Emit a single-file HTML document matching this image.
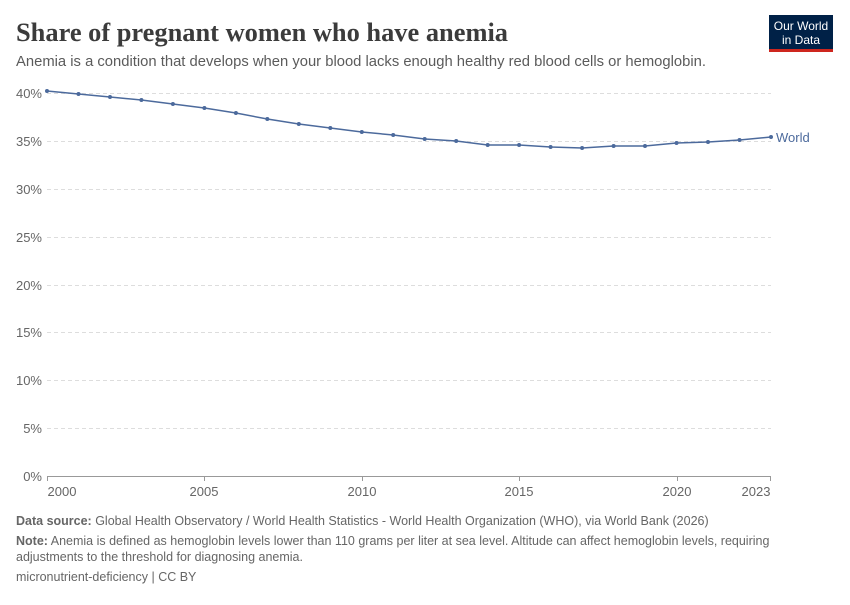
<!DOCTYPE html>
<html><head><meta charset="utf-8"><style>
body{margin:0;background:#fff;width:850px;height:600px;overflow:hidden;font-family:"Liberation Sans",sans-serif}
</style></head><body>
<svg width="850" height="600" xmlns="http://www.w3.org/2000/svg" font-family="Liberation Sans, sans-serif">
<text x="16" y="41" font-family="Liberation Serif, serif" font-size="26.5" font-weight="bold" fill="#3b3b3b" textLength="492" lengthAdjust="spacingAndGlyphs">Share of pregnant women who have anemia</text>
<text x="16" y="66" font-size="14.5" fill="#5b5b5b" textLength="690" lengthAdjust="spacingAndGlyphs">Anemia is a condition that develops when your blood lacks enough healthy red blood cells or hemoglobin.</text>
<rect x="769" y="15" width="64" height="34" fill="#002147"/>
<rect x="769" y="49" width="64" height="3" fill="#ce261e"/>
<text x="801" y="30" font-size="12" fill="#fff" text-anchor="middle">Our World</text>
<text x="801" y="44" font-size="12" fill="#fff" text-anchor="middle">in Data</text>
<g stroke="#ddd" stroke-dasharray="4,3" stroke-width="1">
<line x1="47" x2="771" y1="93.5" y2="93.5"/><line x1="47" x2="771" y1="141.5" y2="141.5"/>
<line x1="47" x2="771" y1="189.5" y2="189.5"/><line x1="47" x2="771" y1="237.5" y2="237.5"/>
<line x1="47" x2="771" y1="285.5" y2="285.5"/><line x1="47" x2="771" y1="332.5" y2="332.5"/>
<line x1="47" x2="771" y1="380.5" y2="380.5"/><line x1="47" x2="771" y1="428.5" y2="428.5"/>
</g>
<line x1="47" x2="771" y1="476.5" y2="476.5" stroke="#999"/>
<g font-size="13" fill="#666" text-anchor="end">
<text x="42" y="98">40%</text><text x="42" y="146">35%</text><text x="42" y="194">30%</text>
<text x="42" y="242">25%</text><text x="42" y="290">20%</text><text x="42" y="337">15%</text>
<text x="42" y="385">10%</text><text x="42" y="433">5%</text><text x="42" y="481">0%</text>
</g>
<g stroke="#999"><line x1="47.5" x2="47.5" y1="476" y2="481"/><line x1="204.5" x2="204.5" y1="476" y2="481"/><line x1="362.5" x2="362.5" y1="476" y2="481"/><line x1="519.5" x2="519.5" y1="476" y2="481"/><line x1="677.5" x2="677.5" y1="476" y2="481"/><line x1="770.5" x2="770.5" y1="476" y2="481"/></g>
<g font-size="13" fill="#666" text-anchor="middle">
<text x="62" y="496">2000</text><text x="204" y="496">2005</text><text x="362" y="496">2010</text>
<text x="519" y="496">2015</text><text x="677" y="496">2020</text><text x="756" y="496">2023</text>
</g>
<polyline fill="none" stroke="#4c6a9c" stroke-width="1.5" points="47,91 78.5,94 110,97 141.4,100 172.9,104 204.4,108 235.9,113 267.3,119 298.8,124 330.3,128 361.8,132 393.2,135 424.7,139 456.2,141 487.7,145 519.1,145 550.6,147 582.1,148 613.6,146 645,146 676.5,143 708,142 739.5,140 771,137"/>
<g fill="#4c6a9c">
<circle cx="47" cy="91" r="2"/><circle cx="78.5" cy="94" r="2"/><circle cx="110" cy="97" r="2"/><circle cx="141.4" cy="100" r="2"/><circle cx="172.9" cy="104" r="2"/><circle cx="204.4" cy="108" r="2"/><circle cx="235.9" cy="113" r="2"/><circle cx="267.3" cy="119" r="2"/><circle cx="298.8" cy="124" r="2"/><circle cx="330.3" cy="128" r="2"/><circle cx="361.8" cy="132" r="2"/><circle cx="393.2" cy="135" r="2"/><circle cx="424.7" cy="139" r="2"/><circle cx="456.2" cy="141" r="2"/><circle cx="487.7" cy="145" r="2"/><circle cx="519.1" cy="145" r="2"/><circle cx="550.6" cy="147" r="2"/><circle cx="582.1" cy="148" r="2"/><circle cx="613.6" cy="146" r="2"/><circle cx="645" cy="146" r="2"/><circle cx="676.5" cy="143" r="2"/><circle cx="708" cy="142" r="2"/><circle cx="739.5" cy="140" r="2"/><circle cx="771" cy="137" r="2"/>
</g>
<text x="776" y="142" font-size="13" fill="#4c6a9c">World</text>
<g font-size="12.5" fill="#666">
<text x="16" y="525"><tspan font-weight="bold">Data source:</tspan> Global Health Observatory / World Health Statistics - World Health Organization (WHO), via World Bank (2026)</text>
<text x="16" y="545"><tspan font-weight="bold">Note:</tspan> Anemia is defined as hemoglobin levels lower than 110 grams per liter at sea level. Altitude can affect hemoglobin levels, requiring</text>
<text x="16" y="561">adjustments to the threshold for diagnosing anemia.</text>
<text x="16" y="581">micronutrient-deficiency | CC BY</text>
</g>
</svg>
</body></html>
